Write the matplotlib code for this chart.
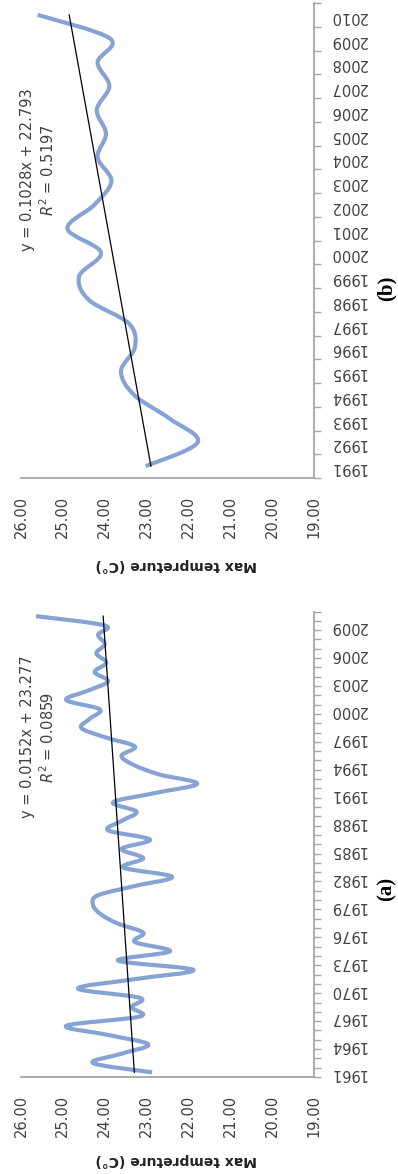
import numpy as np
import matplotlib.pyplot as plt
from matplotlib.path import Path
from matplotlib.patches import PathPatch

# panel (a): 1961-2010
years_a = list(range(1961, 2011))
temp_a = [22.87, 24.28, 23.60, 22.96, 23.90, 24.92, 23.16, 23.36, 23.16, 24.64,
          23.30, 21.88, 23.68, 22.44, 23.28, 23.08, 23.70, 24.10, 24.28, 24.17,
          23.30, 22.39, 23.56, 23.08, 23.60, 22.92, 23.92, 23.60, 23.24, 23.80,
          22.80, 21.79, 22.70, 23.30, 23.60, 23.28, 24.00, 24.56, 24.35, 24.12,
          24.92, 24.40, 23.92, 24.24, 23.96, 24.20, 24.00, 24.16, 24.00, 25.64]
trend_a = (0.0152, 23.277, 0.0859)

# panel (b): 1991-2010
years_b = list(range(1991, 2011))
temp_b = [23.02, 21.78, 22.45, 23.30, 23.61, 23.28, 23.42, 24.38, 24.61, 24.09,
          24.89, 24.25, 23.84, 24.17, 23.97, 24.19, 23.89, 24.17, 23.87, 25.60]
trend_b = (0.1028, 22.793, 0.5197)

value_ticks = [26, 25, 24, 23, 22, 21, 20, 19]

W, H = 398, 1174
LINE = '#86a3d3'
AXC = '#a6a6a6'
TXT = '#404040'

fig = plt.figure(figsize=(W / 100, H / 100), dpi=100)


def smooth_path(xs, ys):
    # excel style smoothed line: bezier segments through the points
    pts = np.column_stack([xs, ys]).astype(float)
    n = len(pts)
    verts = [pts[0]]
    codes = [Path.MOVETO]
    for i in range(n - 1):
        p0 = pts[max(i - 1, 0)]
        p1 = pts[i]
        p2 = pts[i + 1]
        p3 = pts[min(i + 2, n - 1)]
        verts += [p1 + (p2 - p0) / 6, p2 - (p3 - p1) / 6, p2]
        codes += [Path.CURVE4] * 3
    return Path(verts, codes)


def ftext(x, y, s, **kw):
    fig.text(x / W, 1 - y / H, s, **kw)


def draw_panel(box, years, temps, trend, step, eq_y, title_y, tag, tag_y):
    left, top, right, bottom = box
    ax = fig.add_axes([left / W, 1 - bottom / H, (right - left) / W, (bottom - top) / H])
    n = len(years)
    idx = np.arange(n)
    ax.add_patch(PathPatch(smooth_path(temps, idx), fill=False, ec=LINE, lw=3,
                           capstyle='butt', joinstyle='round'))
    slope, icpt, r2 = trend
    xs = np.array([1, n])
    ax.plot(slope * xs + icpt, xs - 1, color='black', lw=0.9)

    ax.set_xlim(26, 19)
    ax.set_ylim(-0.5, n - 0.5)
    ax.set_xticks(value_ticks)
    ax.set_xticklabels([f'{v:.2f}' for v in value_ticks], rotation=90)
    ax.tick_params(axis='x', length=0, pad=13, labelsize=10.5, labelcolor=TXT)

    ax.yaxis.tick_right()
    ax.set_yticks(np.arange(n + 1) - 0.5)
    ax.set_yticklabels([])
    ax.set_yticks(idx[::step], minor=True)
    ax.set_yticklabels([str(y) for y in years[::step]], minor=True, rotation=180)
    ax.tick_params(axis='y', which='major', length=5, width=1, color=AXC)
    ax.tick_params(axis='y', which='minor', length=0, pad=11, labelsize=10.5, labelcolor=TXT)

    for s in ['top', 'left']:
        ax.spines[s].set_visible(False)
    for s in ['bottom', 'right']:
        ax.spines[s].set_color(AXC)
        ax.spines[s].set_linewidth(1.3)

    ftext(28, eq_y, f'y = {slope}x + {icpt}', rotation=90, ha='center', va='center',
          fontsize=10.5, color=TXT)
    ftext(48, eq_y, f'$R^2$ = {r2}', rotation=90, ha='center', va='center',
          fontsize=10.5, color=TXT)
    ftext(176, title_y, 'Max tempreture (C°)', rotation=180, ha='center', va='center',
          fontsize=10, fontweight='bold', color='#222222')
    ftext(387, tag_y, tag, rotation=90, ha='center', va='center', fontsize=15,
          fontweight='bold', family='Liberation Serif')


draw_panel((21, 3, 314, 478), years_b, temp_b, trend_b, 1, 170, 565, '(b)', 288)
draw_panel((21, 611.5, 314, 1077), years_a, temp_a, trend_a, 3, 737, 1160, '(a)', 889)

fig.savefig('out.png', dpi=100)
